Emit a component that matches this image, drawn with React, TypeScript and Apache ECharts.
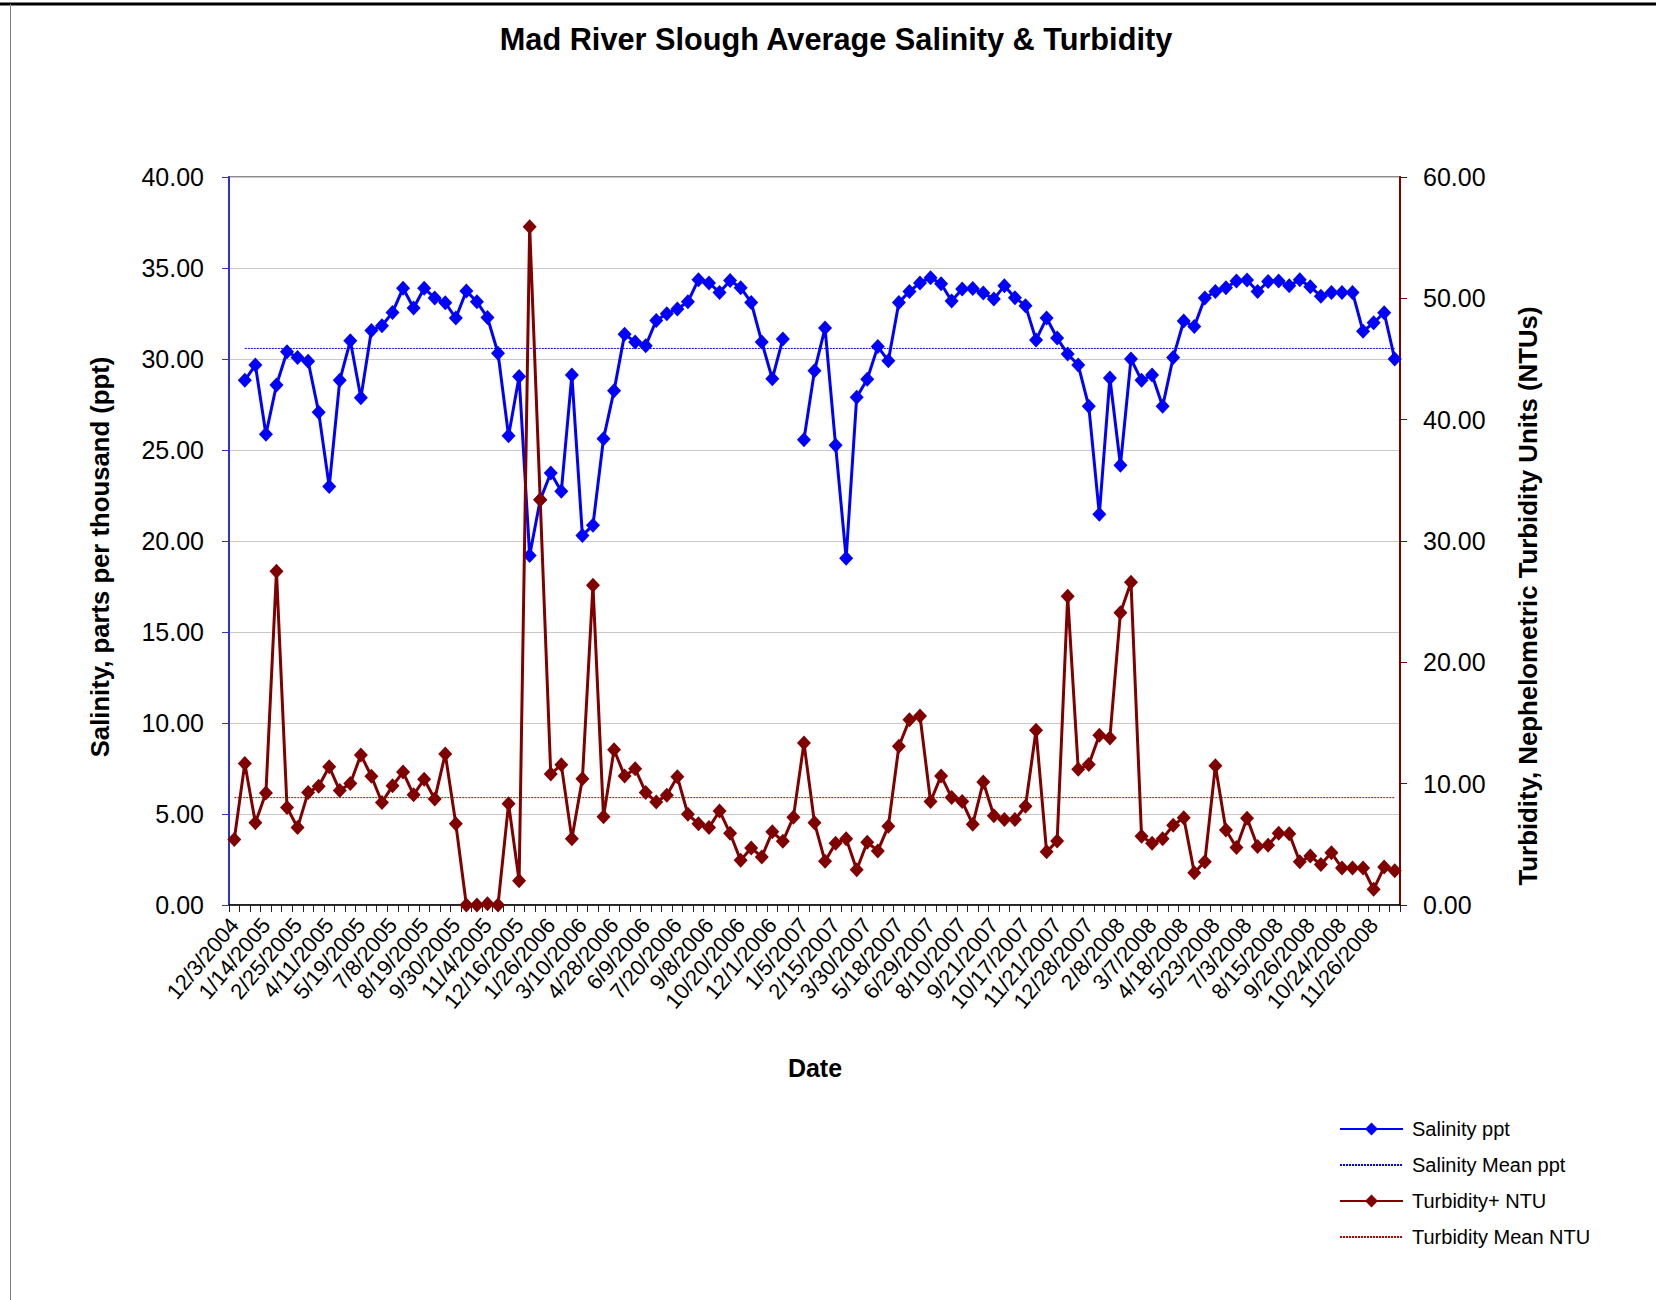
import React, { useEffect, useRef } from 'react';
import * as echarts from 'echarts';

const dateLabels = [
  '12/3/2004', '1/14/2005', '2/25/2005', '4/11/2005', '5/19/2005', '7/8/2005',
  '8/19/2005', '9/30/2005', '11/4/2005', '12/16/2005', '1/26/2006', '3/10/2006',
  '4/28/2006', '6/9/2006', '7/20/2006', '9/8/2006', '10/20/2006', '12/1/2006',
  '1/5/2007', '2/15/2007', '3/30/2007', '5/18/2007', '6/29/2007', '8/10/2007',
  '9/21/2007', '10/17/2007', '11/21/2007', '12/28/2007', '2/8/2008', '3/7/2008',
  '4/18/2008', '5/23/2008', '7/3/2008', '8/15/2008', '9/26/2008', '10/24/2008',
  '11/26/2008',
];

// every third sampling date is labelled on the axis; the others are unlabelled
const categories: string[] = [];
dateLabels.forEach((d) => {
  categories.push(d, '', '');
});

const salinity: (number | null)[] = [
  null, 28.83, 29.67, 25.86, 28.57, 30.4, 30.08, 29.88, 27.08, 22.99,
  28.83, 31.0, 27.87, 31.57, 31.83, 32.56, 33.89, 32.8, 33.89, 33.35,
  33.09, 32.25, 33.74, 33.14, 32.28, 30.32, 25.78, 29.04, 19.2, 22.26,
  23.74, 22.73, 29.12, 20.3, 20.87, 25.62, 28.26, 31.36, 30.94, 30.73,
  32.12, 32.49, 32.75, 33.14, 34.36, 34.18, 33.66, 34.31, 33.92, 33.11,
  30.94, 28.91, 31.1, null, 25.57, 29.35, 31.7, 25.26, 19.05, 27.9,
  28.89, 30.68, 29.9, 33.11, 33.71, 34.18, 34.47, 34.13, 33.19, 33.84,
  33.87, 33.63, 33.29, 34.02, 33.37, 32.93, 31.05, 32.25, 31.15, 30.27,
  29.67, 27.4, 21.47, 28.96, 24.16, 30.0, 28.83, 29.12, 27.4, 30.08,
  32.09, 31.78, 33.35, 33.71, 33.92, 34.28, 34.34, 33.71, 34.26, 34.28,
  34.02, 34.36, 33.97, 33.45, 33.66, 33.66, 33.66, 31.52, 31.99, 32.54,
  30.0,
];

const turbidity: number[] = [
  5.4, 11.67, 6.77, 9.24, 27.5, 8.03, 6.38, 9.28, 9.78, 11.39,
  9.43, 10.02, 12.37, 10.61, 8.45, 9.82, 10.96, 9.08, 10.37, 8.73,
  12.45, 6.69, 0, 0, 0.1, 0, 8.34, 2.0, 55.9, 33.39,
  10.8, 11.55, 5.47, 10.41, 26.35, 7.28, 12.8, 10.64, 11.23, 9.28,
  8.49, 9.04, 10.57, 7.47, 6.69, 6.38, 7.75, 5.91, 3.68, 4.7,
  3.96, 6.03, 5.25, 7.24, 13.35, 6.77, 3.6, 5.09, 5.47, 2.9,
  5.17, 4.46, 6.5, 13.08, 15.27, 15.58, 8.53, 10.64, 8.85, 8.53,
  6.65, 10.14, 7.36, 7.04, 7.04, 8.14, 14.4, 4.38, 5.28, 25.44,
  11.19, 11.58, 14.0, 13.77, 24.09, 26.6, 5.67, 5.09, 5.47, 6.57,
  7.2, 2.66, 3.56, 11.47, 6.18, 4.74, 7.16, 4.82, 4.93, 5.91,
  5.87, 3.56, 4.03, 3.33, 4.3, 3.05, 3.05, 3.05, 1.29, 3.13,
  2.82,
];

const salinityMean = 30.58;
const turbidityMean = 8.85;

const salinityTicks = { min: 0, max: 40, interval: 5 };
const turbidityTicks = { min: 0, max: 60, interval: 10 };

const FONT = '"Liberation Sans", Arial, Helvetica, sans-serif';

export default function App() {
  const ref = useRef<HTMLDivElement>(null);

  useEffect(() => {
    if (!ref.current) return;
    const chart = echarts.init(ref.current, undefined, { renderer: 'svg' });

    const firstSal = salinity.findIndex((v) => v !== null);
    const salMeanLine = categories.map((_, i) => (i >= firstSal ? salinityMean : null));
    const turbMeanLine = categories.map(() => turbidityMean);

    const option: any = {
      animation: false,
      backgroundColor: '#ffffff',
      textStyle: { fontFamily: FONT, color: '#000' },
      grid: {
        left: 229,
        right: 256,
        top: 177,
        bottom: 395,
        containLabel: false,
        show: true,
        borderColor: '#8c8c8c',
        borderWidth: 2,
        backgroundColor: 'transparent',
      },
      legend: {
        orient: 'vertical',
        left: 1339,
        top: 1119,
        padding: 0,
        itemWidth: 63,
        itemHeight: 16,
        itemGap: 16,
        textStyle: {
          fontFamily: FONT,
          fontSize: 20,
          color: '#000',
          lineHeight: 20,
          padding: [0, 0, 0, 4],
        },
        data: [
          { name: 'Salinity ppt' },
          { name: 'Salinity Mean ppt', itemStyle: { opacity: 0 } },
          { name: 'Turbidity+ NTU' },
          { name: 'Turbidity Mean NTU', itemStyle: { opacity: 0 } },
        ],
      },
      xAxis: {
        type: 'category',
        data: categories,
        boundaryGap: true,
        axisLine: { show: true, lineStyle: { color: '#000', width: 1.5 } },
        axisTick: { show: true, interval: 0, length: 7, lineStyle: { color: '#222', width: 1 } },
        axisLabel: {
          interval: 2,
          rotate: 50,
          margin: 16,
          fontSize: 22,
          fontFamily: FONT,
          color: '#000',
        },
        splitLine: { show: false },
      },
      yAxis: [
        {
          type: 'value',
          position: 'left',
          min: salinityTicks.min,
          max: salinityTicks.max,
          interval: salinityTicks.interval,
          axisLine: { show: true, lineStyle: { color: '#3232c8', width: 2 } },
          axisTick: { show: true, length: 7, lineStyle: { color: '#3232c8' } },
          axisLabel: {
            margin: 25,
            fontSize: 25,
            fontFamily: FONT,
            color: '#000',
            formatter: (v: number) => v.toFixed(2),
          },
          splitLine: { show: true, lineStyle: { color: '#c8c8c8', width: 1 } },
        },
        {
          type: 'value',
          position: 'right',
          min: turbidityTicks.min,
          max: turbidityTicks.max,
          interval: turbidityTicks.interval,
          axisLine: { show: true, lineStyle: { color: '#800000', width: 2 } },
          axisTick: { show: true, length: 7, lineStyle: { color: '#800000' } },
          axisLabel: {
            margin: 23,
            fontSize: 25,
            fontFamily: FONT,
            color: '#000',
            formatter: (v: number) => v.toFixed(2),
          },
          splitLine: { show: false },
        },
      ],
      series: [
        {
          name: 'Salinity Mean ppt',
          type: 'line',
          yAxisIndex: 0,
          data: salMeanLine,
          symbol: 'none',
          color: '#0000ff',
          lineStyle: { color: '#0000ff', width: 1, type: [2, 1] },
          z: 2,
        },
        {
          name: 'Turbidity Mean NTU',
          type: 'line',
          yAxisIndex: 1,
          data: turbMeanLine,
          symbol: 'none',
          color: '#c00000',
          lineStyle: { color: '#c00000', width: 1, type: [2, 1] },
          z: 2,
        },
        {
          name: 'Salinity ppt',
          type: 'line',
          yAxisIndex: 0,
          data: salinity,
          connectNulls: false,
          symbol: 'diamond',
          symbolSize: [14, 15],
          showAllSymbol: true,
          color: '#0000ff',
          itemStyle: { color: '#0000ff' },
          lineStyle: { color: '#0000ff', width: 3 },
          z: 3,
        },
        {
          name: 'Turbidity+ NTU',
          type: 'line',
          yAxisIndex: 1,
          data: turbidity,
          symbol: 'diamond',
          symbolSize: [14, 15],
          showAllSymbol: true,
          color: '#800000',
          itemStyle: { color: '#800000' },
          lineStyle: { color: '#800000', width: 3 },
          z: 4,
        },
      ],
      graphic: [
        {
          type: 'line',
          shape: { x1: 0, y1: 4, x2: 1656, y2: 4 },
          style: { stroke: '#000', lineWidth: 3 },
        },
        {
          type: 'line',
          shape: { x1: 10.5, y1: 4, x2: 10.5, y2: 1300 },
          style: { stroke: '#808080', lineWidth: 1 },
        },
        {
          type: 'text',
          x: 836,
          y: 39,
          style: {
            text: 'Mad River Slough Average Salinity & Turbidity',
            font: `bold 30.7px ${FONT}`,
            fill: '#000',
            align: 'center',
            verticalAlign: 'middle',
          },
        },
        {
          type: 'text',
          x: 100,
          y: 557,
          rotation: Math.PI / 2,
          style: {
            text: 'Salinity, parts per thousand (ppt)',
            font: `bold 25.7px ${FONT}`,
            fill: '#000',
            align: 'center',
            verticalAlign: 'middle',
          },
        },
        {
          type: 'text',
          x: 1528,
          y: 596,
          rotation: Math.PI / 2,
          style: {
            text: 'Turbidity, Nephelometric Turbidity Units (NTUs)',
            font: `bold 25.8px ${FONT}`,
            fill: '#000',
            align: 'center',
            verticalAlign: 'middle',
          },
        },
        {
          type: 'text',
          x: 815,
          y: 1068,
          style: {
            text: 'Date',
            font: `bold 25px ${FONT}`,
            fill: '#000',
            align: 'center',
            verticalAlign: 'middle',
          },
        },
      ],
    };

    chart.setOption(option);
    return () => {
      chart.dispose();
    };
  }, []);

  return (
    <div
      ref={ref}
      style={{ position: 'absolute', left: 0, top: 0, width: 1656, height: 1300, background: '#fff' }}
    />
  );
}
